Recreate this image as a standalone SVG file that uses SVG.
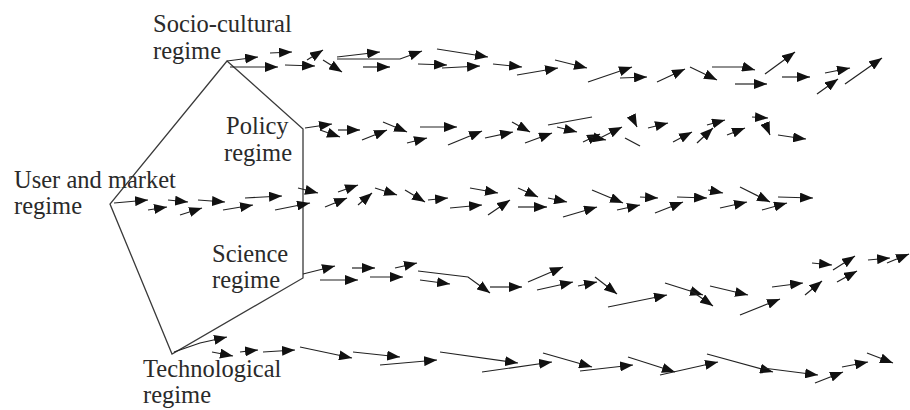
<svg xmlns="http://www.w3.org/2000/svg" width="910" height="410" viewBox="0 0 910 410">
  <style>
    .lbl { font-family: "Liberation Serif", "Times New Roman", serif; font-size: 24.5px; fill: #2a2a2a; }
    .frame { fill: none; stroke: #3a3a3a; stroke-width: 1.3; stroke-linejoin: miter; }
    .a { fill: none; stroke: #222; stroke-width: 1.2; marker-end: url(#head); }
    .p { fill: none; stroke: #222; stroke-width: 1.2; }
  </style>
  <defs>
    <marker id="head" markerUnits="userSpaceOnUse" markerWidth="13" markerHeight="10" refX="13" refY="5" orient="auto">
      <path d="M0,0 L13,5 L0,10 z" fill="#111"/>
    </marker>
  </defs>
  <rect width="910" height="410" fill="#fff"/>

  <!-- regime pentagon -->
  <g id="regime-frame">
    <path class="frame" d="M227,61 L303,129 L303,278 L172,354 L110,204 Z"/>
  </g>

  <!-- regime nodes -->
  <g id="socio-cultural-regime">
    <text class="lbl" x="153" y="32">Socio-cultural</text>
    <text class="lbl" x="153" y="59">regime</text>
  </g>
  <g id="policy-regime">
    <text class="lbl" x="226" y="134">Policy</text>
    <text class="lbl" x="224" y="161">regime</text>
  </g>
  <g id="user-market-regime">
    <text class="lbl" x="14" y="188">User and market</text>
    <text class="lbl" x="14" y="214">regime</text>
  </g>
  <g id="science-regime">
    <text class="lbl" x="212" y="262">Science</text>
    <text class="lbl" x="212" y="288">regime</text>
  </g>
  <g id="technological-regime">
    <text class="lbl" x="143" y="377">Technological</text>
    <text class="lbl" x="143" y="403">regime</text>
  </g>

  <!-- trajectories leaving each regime -->
  <g id="connectors">
    <g id="socio-cultural-arrows">
      <path class="a" d="M227,61 L258,57"/>
      <path class="a" d="M230,67 L278,67"/>
      <path class="a" d="M270,53 L292,52"/>
      <path class="a" d="M285,65 L315,66"/>
      <path class="a" d="M307,60 L323,50"/>
      <path class="a" d="M323,60 L342,72"/>
      <path class="a" d="M337,57 L380,52"/>
      <path class="a" d="M337,59 L400,59 L422,51"/>
      <path class="a" d="M363,67 L390,67"/>
      <path class="a" d="M418,64 L447,65"/>
      <path class="a" d="M442,68 L480,66"/>
      <path class="a" d="M437,49 L488,57"/>
      <path class="a" d="M493,64 L522,67"/>
      <path class="a" d="M517,75 L558,68"/>
      <path class="a" d="M555,60 L587,68"/>
      <path class="a" d="M588,82 L632,67"/>
      <path class="a" d="M620,78 L647,77"/>
      <path class="a" d="M657,82 L685,69"/>
      <path class="a" d="M690,67 L717,80"/>
      <path class="a" d="M712,67 L744,67 L755,70"/>
      <path class="a" d="M735,84 L767,84"/>
      <path class="a" d="M765,74 L795,52"/>
      <path class="a" d="M782,77 L810,77"/>
      <path class="a" d="M825,73 L850,68"/>
      <path class="a" d="M817,94 L838,79"/>
      <path class="a" d="M845,84 L882,58"/>
    </g>
    <g id="policy-arrows">
      <path class="a" d="M305,128 L332,124"/>
      <path class="a" d="M320,130 L340,137"/>
      <path class="a" d="M338,130 L360,130"/>
      <path class="a" d="M362,140 L387,130"/>
      <path class="a" d="M383,122 L407,132"/>
      <path class="a" d="M407,143 L427,138"/>
      <path class="a" d="M420,127 L457,127"/>
      <path class="a" d="M448,145 L482,131"/>
      <path class="a" d="M485,138 L513,132"/>
      <path class="a" d="M512,122 L530,132"/>
      <path class="a" d="M525,143 L552,133"/>
      <path class="p" d="M548,125 L592,117"/>
      <path class="a" d="M557,127 L577,132"/>
      <path class="a" d="M583,142 L600,134"/>
      <path class="a" d="M587,136 L606,140"/>
      <path class="a" d="M600,138 L622,127"/>
      <path class="a" d="M633,119 L637,127"/>
      <path class="p" d="M625,138 L640,146"/>
      <path class="a" d="M648,128 L668,123"/>
      <path class="a" d="M673,142 L692,132"/>
      <path class="a" d="M697,143 L713,128"/>
      <path class="a" d="M707,125 L725,120"/>
      <path class="a" d="M727,135 L745,128"/>
      <path class="a" d="M752,117 L768,118"/>
      <path class="a" d="M765,123 L770,135"/>
      <path class="a" d="M778,135 L798,138 L806,139"/>
    </g>
    <g id="user-market-arrows">
      <path class="a" d="M114,203 L148,200"/>
      <path class="a" d="M148,210 L167,207"/>
      <path class="a" d="M168,200 L188,202"/>
      <path class="a" d="M180,215 L202,208"/>
      <path class="a" d="M198,200 L225,202"/>
      <path class="a" d="M223,210 L253,205"/>
      <path class="a" d="M245,198 L282,196"/>
      <path class="a" d="M275,210 L310,203"/>
      <path class="a" d="M298,188 L318,193"/>
      <path class="a" d="M325,207 L347,198"/>
      <path class="a" d="M338,192 L358,185"/>
      <path class="a" d="M358,205 L372,193"/>
      <path class="a" d="M375,188 L397,195"/>
      <path class="a" d="M405,190 L425,202"/>
      <path class="a" d="M428,200 L448,198"/>
      <path class="a" d="M450,208 L482,205"/>
      <path class="a" d="M470,188 L498,193"/>
      <path class="a" d="M488,215 L510,200"/>
      <path class="a" d="M518,188 L538,197"/>
      <path class="a" d="M518,207 L547,207"/>
      <path class="a" d="M548,198 L567,202"/>
      <path class="a" d="M563,217 L597,207"/>
      <path class="a" d="M592,190 L623,203"/>
      <path class="a" d="M617,210 L640,205"/>
      <path class="a" d="M640,197 L658,198"/>
      <path class="a" d="M655,213 L683,202"/>
      <path class="a" d="M677,197 L707,198"/>
      <path class="a" d="M708,190 L723,193"/>
      <path class="a" d="M720,208 L747,202"/>
      <path class="a" d="M740,187 L770,202"/>
      <path class="a" d="M762,210 L787,203"/>
      <path class="a" d="M778,197 L813,198"/>
    </g>
    <g id="science-arrows">
      <path class="a" d="M303,274 L335,266"/>
      <path class="a" d="M320,280 L358,280"/>
      <path class="a" d="M352,268 L375,268"/>
      <path class="a" d="M370,277 L403,277"/>
      <path class="a" d="M395,268 L417,263"/>
      <path class="a" d="M418,271 L468,277 L490,293"/>
      <path class="a" d="M420,280 L450,284"/>
      <path class="a" d="M490,287 L522,287"/>
      <path class="a" d="M528,282 L563,267"/>
      <path class="a" d="M537,290 L573,282"/>
      <path class="a" d="M578,286 L597,282"/>
      <path class="a" d="M595,277 L617,294"/>
      <path class="a" d="M608,307 L667,295"/>
      <path class="a" d="M665,283 L703,295"/>
      <path class="a" d="M690,290 L713,306"/>
      <path class="a" d="M710,286 L748,295"/>
      <path class="a" d="M740,315 L780,299"/>
      <path class="a" d="M772,287 L803,283"/>
      <path class="a" d="M805,295 L822,281"/>
      <path class="a" d="M812,263 L832,265"/>
      <path class="a" d="M833,270 L855,256"/>
      <path class="a" d="M837,282 L857,271"/>
      <path class="a" d="M868,260 L890,258"/>
      <path class="a" d="M887,263 L909,254"/>
    </g>
    <g id="technological-arrows">
      <path class="a" d="M174,352 L200,343 L227,337"/>
      <path class="a" d="M212,352 L233,356"/>
      <path class="a" d="M240,352 L258,350"/>
      <path class="a" d="M263,352 L295,350"/>
      <path class="a" d="M300,347 L352,358"/>
      <path class="a" d="M353,352 L400,357"/>
      <path class="a" d="M380,365 L437,360"/>
      <path class="a" d="M440,352 L518,363"/>
      <path class="a" d="M482,372 L552,362"/>
      <path class="a" d="M543,353 L592,367"/>
      <path class="a" d="M580,371 L633,365"/>
      <path class="a" d="M628,357 L675,372"/>
      <path class="a" d="M660,375 L718,362"/>
      <path class="a" d="M707,354 L773,372"/>
      <path class="a" d="M763,368 L818,375"/>
      <path class="a" d="M815,383 L843,372"/>
      <path class="a" d="M842,367 L868,362"/>
      <path class="a" d="M867,353 L893,363"/>
    </g>
  </g>
</svg>
